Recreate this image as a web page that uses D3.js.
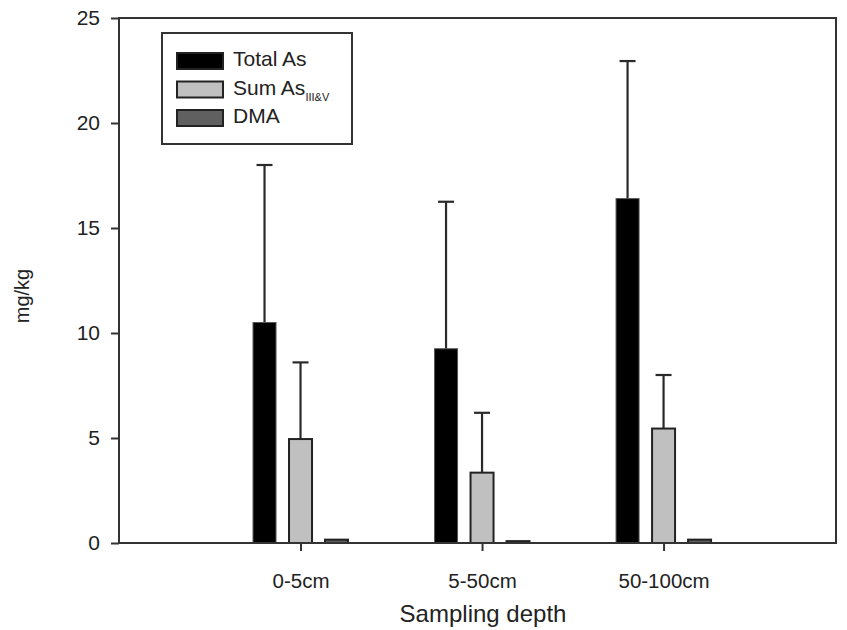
<!DOCTYPE html>
<html>
<head>
<meta charset="utf-8">
<script src="https://d3js.org/d3.v7.min.js"></script>
<style>
  body { margin: 0; background: white; }
  text { font-family: "Liberation Sans", Arial, sans-serif; fill: #222; }
  .frame { fill: none; stroke: #333; stroke-width: 2px; }
  .err { stroke: #2a2a2a; stroke-width: 2.2px; fill: none; }
</style>
</head>
<body>
<script>
// data
var depths = ["0-5cm", "5-50cm", "50-100cm"];
var seriesNames = ["Total As", "Sum As", "DMA"];
var totalAs = [10.5, 9.25, 16.4];
var totalAsErr = [7.5, 7.0, 6.55];
var sumAs = [4.95, 3.35, 5.45];
var sumAsErr = [3.65, 2.85, 2.55];
var dma = [0.16, 0.09, 0.16];
var dmaErr = [0, 0, 0];
var yTicks = [0, 5, 10, 15, 20, 25];

var width = 847, height = 630;
var plotL = 119, plotR = 836, plotT = 18, plotB = 543;

var svg = d3.select("body").append("svg")
  .attr("width", width)
  .attr("height", height);

var x = d3.scaleLinear().domain([0, 3.95]).range([plotL, plotR]);
var offset = d3.scalePoint().domain(seriesNames).range([-36, 36]);
var y = d3.scaleLinear().domain([0, 25]).range([plotB, plotT]);
var barW = 23;

var fills = { "Total As": "#000", "Sum As": "#c0c0c0", "DMA": "#606060" };

var series = [
  { name: "Total As", values: totalAs, errs: totalAsErr },
  { name: "Sum As", values: sumAs, errs: sumAsErr },
  { name: "DMA", values: dma, errs: dmaErr }
];

// bars + upper error bars
series.forEach(function(s) {
  var g = svg.append("g");
  var rows = s.values.map(function(v, i) { return { v: v, e: s.errs[i], i: i }; });
  var cx = function(d) { return x(d.i + 1) + offset(s.name); };
  var withErr = rows.filter(function(d) { return d.e > 0; });

  g.selectAll("line.stem").data(withErr)
    .enter().append("line").attr("class", "err stem")
    .attr("x1", cx).attr("x2", cx)
    .attr("y1", function(d) { return y(d.v); })
    .attr("y2", function(d) { return y(d.v + d.e); });
  g.selectAll("line.cap").data(withErr)
    .enter().append("line").attr("class", "err cap")
    .attr("x1", function(d) { return cx(d) - 8; })
    .attr("x2", function(d) { return cx(d) + 8; })
    .attr("y1", function(d) { return y(d.v + d.e); })
    .attr("y2", function(d) { return y(d.v + d.e); });

  g.selectAll("rect").data(rows).enter().append("rect")
    .attr("x", function(d) { return cx(d) - barW / 2; })
    .attr("y", function(d) { return y(d.v); })
    .attr("width", barW)
    .attr("height", function(d) { return y(0) - y(d.v); })
    .attr("fill", fills[s.name])
    .attr("stroke", s.name === "Total As" ? "#555" : "#222")
    .attr("stroke-width", s.name === "Total As" ? 1 : 2);
});

// frame
svg.append("rect").attr("class", "frame")
  .attr("x", plotL).attr("y", plotT)
  .attr("width", plotR - plotL).attr("height", plotB - plotT);

// y axis
var yAxis = svg.append("g").attr("transform", "translate(" + plotL + ",0)")
  .call(d3.axisLeft(y).tickValues(yTicks).tickSize(8).tickPadding(11));
yAxis.select(".domain").remove();
yAxis.selectAll("line").attr("stroke", "#333").attr("stroke-width", 2);
yAxis.selectAll("text").style("font-size", "21px").attr("fill", "#222")
  .attr("font-family", null);

// x axis ticks at group centres
var xAxis = svg.append("g").attr("transform", "translate(0," + plotB + ")")
  .call(d3.axisBottom(x).tickValues([1, 2, 3]).tickSize(8).tickPadding(22)
    .tickFormat(function(d) { return depths[d - 1]; }));
xAxis.select(".domain").remove();
xAxis.selectAll("line").attr("stroke", "#333").attr("stroke-width", 2);
xAxis.selectAll("text").style("font-size", "20.5px").attr("fill", "#222")
  .attr("font-family", null);

// axis titles
svg.append("text")
  .attr("x", 483).attr("y", 622)
  .attr("text-anchor", "middle")
  .style("font-size", "24px")
  .text("Sampling depth");

svg.append("text")
  .attr("transform", "translate(29,296) rotate(-90)")
  .attr("text-anchor", "middle")
  .style("font-size", "20px")
  .text("mg/kg");

// legend
var legend = svg.append("g");
legend.append("rect")
  .attr("x", 162).attr("y", 33).attr("width", 190).attr("height", 111)
  .attr("fill", "white").attr("stroke", "#333").attr("stroke-width", 2);

var rowY = d3.scalePoint().domain(seriesNames).range([61, 118]);
var items = legend.selectAll("g.item").data(seriesNames).enter().append("g")
  .attr("transform", function(d) { return "translate(0," + rowY(d) + ")"; });
items.append("rect")
  .attr("x", 177).attr("y", -8).attr("width", 46).attr("height", 16)
  .attr("fill", function(d) { return fills[d]; })
  .attr("stroke", "#222").attr("stroke-width", 2);
var labels = items.append("text")
  .attr("x", 233).attr("y", 5)
  .style("font-size", "21px");
labels.append("tspan").text(function(d) { return d; });
labels.filter(function(d) { return d === "Sum As"; })
  .append("tspan").attr("dy", 6).style("font-size", "11px").text("III&V");
</script>
</body>
</html>
